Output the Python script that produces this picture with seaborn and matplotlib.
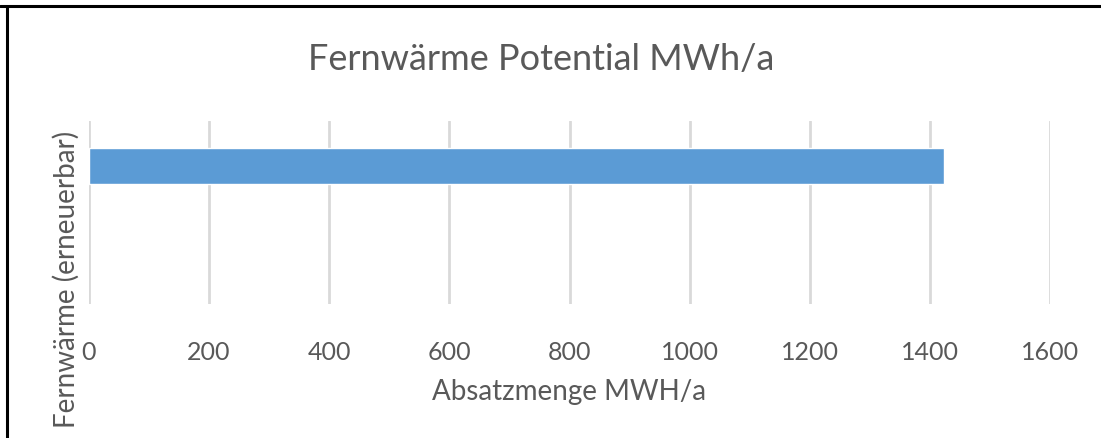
import matplotlib
matplotlib.use("Agg")
import matplotlib.pyplot as plt
from matplotlib.lines import Line2D
import seaborn as sns
import pandas as pd

# Chart data
categories = ["Fernwärme (erneuerbar)"]
values = [1424]
x_ticks = [0, 200, 400, 600, 800, 1000, 1200, 1400, 1600]

title = "Fernwärme Potential MWh/a"
x_label = "Absatzmenge MWH/a"

sns.set_theme(style="white")
plt.rcParams["font.family"] = ["Lato", "DejaVu Sans"]

W, H = 1101, 439
fig = plt.figure(figsize=(W / 100, H / 100), dpi=100)

def px(x, y):
    return x / W, 1 - y / H

left, top = px(89, 122)
right, bottom = px(1050, 305)
ax = fig.add_axes([left, bottom, right - left, top - bottom])

df = pd.DataFrame({"cat": categories, "val": values})
sns.barplot(data=df, x="val", y="cat", orient="h", color="#5B9BD5",
            width=0.8, saturation=1, ax=ax, zorder=3)

ax.set_xlim(0, 1600)
ax.set_ylim(3.07, -1.0)
ax.set_xticks(x_ticks)
ax.set_xticklabels([str(t) for t in x_ticks])
ax.tick_params(axis="x", length=0, pad=26, labelsize=18, labelcolor="#595959")
ax.set_yticks([])
ax.set_ylabel("")
ax.set_xlabel(x_label, fontsize=20, color="#595959", labelpad=11)

ax.xaxis.grid(True, color="#D9D9D9", linewidth=2)
ax.set_axisbelow(True)
for s in ax.spines.values():
    s.set_visible(False)

# Category name, rotated along the left side
cx, cy = px(66, 279)
fig.text(cx, cy, categories[0], rotation=90, ha="center", va="center",
         fontsize=20, color="#595959")

# Title
tx, ty = px(541, 60)
fig.text(tx, ty, title, ha="center", va="center", fontsize=26, color="#595959")

# Frame lines along the top and left edges
fig.add_artist(Line2D([0, 1], [1 - 7 / H, 1 - 7 / H], color="black",
                      linewidth=2.2, transform=fig.transFigure))
fig.add_artist(Line2D([7 / W, 7 / W], [0, 1 - 7 / H], color="black",
                      linewidth=2.2, transform=fig.transFigure))

fig.savefig("out.png", dpi=100)
